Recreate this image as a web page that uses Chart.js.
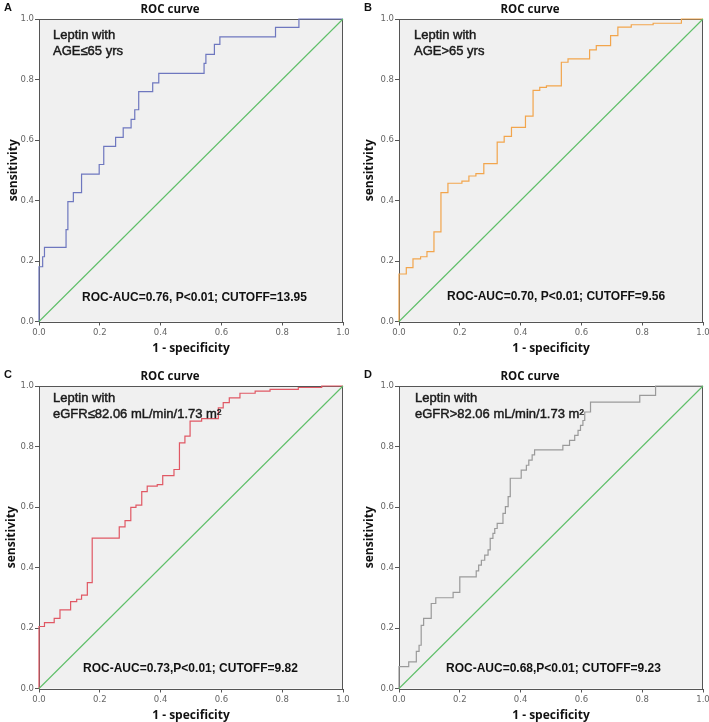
<!DOCTYPE html>
<html>
<head>
<meta charset="utf-8">
<script src="https://cdn.jsdelivr.net/npm/chart.js@4.4.1/dist/chart.umd.min.js"></script>
<style>
  body { margin: 0; background: #fff; width: 709px; height: 722px; position: relative; overflow: hidden; }
  canvas { position: absolute; }
</style>
</head>
<body>
<canvas id="chartA" width="349" height="355" style="left:0px;top:0px"></canvas>
<canvas id="chartB" width="349" height="355" style="left:360px;top:0px"></canvas>
<canvas id="chartC" width="349" height="355" style="left:0px;top:367px"></canvas>
<canvas id="chartD" width="349" height="355" style="left:360px;top:367px"></canvas>
<script>
// reference line
const diagX = [0, 1];
const diagY = [0, 1];
const axisTicks = [0, 0.2, 0.4, 0.6, 0.8, 1.0];

// A: AGE <= 65
const fprA = [0, 0, 0.012, 0.018, 0.089, 0.095, 0.113, 0.140, 0.198, 0.213, 0.252, 0.277, 0.303, 0.315, 0.328, 0.374, 0.394, 0.543, 0.549, 0.577, 0.595, 0.778, 0.855, 1];
const tprA = [0, 0.181, 0.214, 0.245, 0.304, 0.396, 0.426, 0.487, 0.519, 0.579, 0.609, 0.640, 0.668, 0.700, 0.760, 0.789, 0.820, 0.853, 0.883, 0.916, 0.941, 0.972, 1.0, 1.0];

// B: AGE > 65
const fprB = [0, 0, 0.024, 0.046, 0.071, 0.092, 0.115, 0.138, 0.161, 0.207, 0.230, 0.253, 0.279, 0.323, 0.346, 0.370, 0.416, 0.441, 0.463, 0.485, 0.534, 0.556, 0.627, 0.649, 0.696, 0.720, 0.764, 0.836, 0.929, 1];
const tprB = [0, 0.157, 0.178, 0.207, 0.214, 0.231, 0.296, 0.426, 0.457, 0.464, 0.481, 0.489, 0.522, 0.593, 0.612, 0.642, 0.679, 0.764, 0.774, 0.779, 0.857, 0.868, 0.898, 0.912, 0.945, 0.973, 0.981, 0.986, 1.0, 1.0];

// C: eGFR <= 82.06
const fprC = [0, 0, 0.018, 0.050, 0.069, 0.104, 0.124, 0.140, 0.159, 0.175, 0.264, 0.283, 0.302, 0.319, 0.338, 0.356, 0.389, 0.407, 0.444, 0.462, 0.480, 0.497, 0.535, 0.590, 0.606, 0.626, 0.661, 0.711, 0.760, 0.853, 0.930, 1];
const tprC = [0, 0.205, 0.218, 0.232, 0.260, 0.287, 0.295, 0.309, 0.350, 0.497, 0.534, 0.555, 0.599, 0.606, 0.651, 0.669, 0.674, 0.704, 0.724, 0.812, 0.834, 0.884, 0.892, 0.928, 0.945, 0.961, 0.976, 0.983, 0.989, 0.995, 1.0, 1.0];

// D: eGFR > 82.06
const fprD = [0, 0, 0.032, 0.057, 0.066, 0.073, 0.081, 0.106, 0.121, 0.178, 0.200, 0.254, 0.262, 0.271, 0.282, 0.293, 0.300, 0.309, 0.315, 0.323, 0.342, 0.350, 0.359, 0.366, 0.402, 0.419, 0.427, 0.438, 0.446, 0.539, 0.561, 0.578, 0.589, 0.597, 0.605, 0.611, 0.630, 0.792, 0.844, 1];
const tprD = [0, 0.072, 0.088, 0.123, 0.143, 0.209, 0.232, 0.281, 0.300, 0.318, 0.369, 0.389, 0.408, 0.424, 0.441, 0.458, 0.496, 0.513, 0.529, 0.546, 0.579, 0.601, 0.634, 0.695, 0.722, 0.738, 0.755, 0.772, 0.789, 0.804, 0.820, 0.837, 0.853, 0.870, 0.886, 0.914, 0.947, 0.969, 1.0, 1.0];

const letters = ['A', 'B', 'C', 'D'];
const groupLabels = ['AGE≤65 yrs', 'AGE>65 yrs', 'eGFR≤82.06 mL/min/1.73 m²', 'eGFR>82.06 mL/min/1.73 m²'];
const statLabels = [
  'ROC-AUC=0.76, P<0.01; CUTOFF=13.95',
  'ROC-AUC=0.70, P<0.01; CUTOFF=9.56',
  'ROC-AUC=0.73,P<0.01; CUTOFF=9.82',
  'ROC-AUC=0.68,P<0.01; CUTOFF=9.23'
];

const panels = [
  { id: 'chartA', fpr: fprA, tpr: tprA, color: '#6e77bf', textDy: 16, statDy: 23.5, textDx: 14, statDx: 43, labDx: 14 },
  { id: 'chartB', fpr: fprB, tpr: tprB, color: '#f2a54c', textDy: 16, statDy: 24.5, textDx: 15, statDx: 48, labDx: 10 },
  { id: 'chartC', fpr: fprC, tpr: tprC, color: '#e05864', textDy: 12, statDy: 20, textDx: 14, statDx: 44, labDx: 12 },
  { id: 'chartD', fpr: fprD, tpr: tprD, color: '#9a9a9a', textDy: 12, statDy: 20, textDx: 16, statDx: 47, labDx: 10 }
];

const decoPlugin = {
  id: 'deco',
  beforeDatasetsDraw(chart, args, opts) {
    const { ctx, chartArea: a } = chart;
    ctx.save();
    ctx.fillStyle = '#f0f0f0';
    ctx.fillRect(a.left, a.top, a.right - a.left, a.bottom - a.top);
    ctx.strokeStyle = '#555';
    ctx.lineWidth = 1;
    ctx.strokeRect(Math.floor(a.left) + 0.5, Math.floor(a.top) + 0.5,
      Math.round(a.right - a.left) - 1, Math.round(a.bottom - a.top));
    ctx.restore();
  },
  afterDraw(chart, args, opts) {
    const { ctx, chartArea: a } = chart;
    const cx = (a.left + a.right) / 2;
    const cy = (a.top + a.bottom) / 2;
    ctx.save();
    ctx.fillStyle = '#111';
    ctx.textBaseline = 'middle';

    ctx.textAlign = 'left';
    ctx.font = 'bold 11px "Liberation Sans", Arial, sans-serif';
    ctx.fillText(opts.letter, 4, a.top - 11);

    ctx.textAlign = 'center';
    ctx.font = 'bold 11.5px "Open Sans", sans-serif';
    ctx.fillText('ROC curve', cx - 21, a.top - 9);

    ctx.font = 'bold 12px "Open Sans", sans-serif';
    ctx.fillText('1 - specificity', cx, a.bottom + 27);

    ctx.save();
    ctx.translate(opts.labDx, cy);
    ctx.rotate(-Math.PI / 2);
    ctx.fillText('sensitivity', 0, 0);
    ctx.restore();

    // group text, slightly heavier than regular
    ctx.textAlign = 'left';
    ctx.font = '13px "Liberation Sans", Arial, sans-serif';
    ctx.fillStyle = '#1a1a1a';
    ctx.strokeStyle = '#1a1a1a';
    ctx.lineWidth = 0.45;
    const tx = a.left + opts.textDx, ty = a.top + opts.textDy;
    ctx.fillText('Leptin with', tx, ty);
    ctx.strokeText('Leptin with', tx, ty);
    ctx.fillText(opts.group, tx, ty + 16);
    ctx.strokeText(opts.group, tx, ty + 16);

    ctx.font = 'bold 12px "Liberation Sans", Arial, sans-serif';
    ctx.fillStyle = '#111';
    ctx.fillText(opts.stat, a.left + opts.statDx, a.bottom - opts.statDy);
    ctx.restore();
  }
};

function axis(isX) {
  return {
    type: 'linear',
    min: 0,
    max: 1,
    afterFit(scale) {
      if (isX) scale.height = 33.5; else scale.width = 39;
      scale.paddingLeft = 0;
      scale.paddingRight = 0;
      scale.paddingTop = 0;
      scale.paddingBottom = 0;
    },
    afterBuildTicks(scale) {
      scale.ticks = axisTicks.map(v => ({ value: v }));
    },
    grid: { drawOnChartArea: false, drawTicks: true, tickLength: 4, color: '#555' },
    border: { display: false },
    ticks: {
      padding: isX ? 2 : 1,
      color: '#666',
      font: { family: '"DejaVu Sans", sans-serif', size: 8.5 },
      maxRotation: 0,
      callback: v => Number(v).toFixed(1)
    }
  };
}

panels.forEach((p, i) => {
  const curve = p.fpr.map((x, k) => ({ x: x, y: p.tpr[k] }));
  const diag = diagX.map((x, k) => ({ x: x, y: diagY[k] }));
  new Chart(document.getElementById(p.id), {
    type: 'scatter',
    data: {
      datasets: [
        {
          data: diag,
          showLine: true,
          borderColor: '#5fbf69',
          borderWidth: 1.1,
          pointRadius: 0,
          clip: false
        },
        {
          data: curve,
          showLine: true,
          stepped: 'before',
          borderColor: p.color,
          borderWidth: 1.2,
          pointRadius: 0,
          clip: false
        }
      ]
    },
    options: {
      responsive: false,
      animation: false,
      devicePixelRatio: 1,
      layout: { padding: { left: 0, top: 19, right: 6, bottom: 0 } },
      scales: { x: axis(true), y: axis(false) },
      plugins: {
        legend: { display: false },
        tooltip: { enabled: false },
        deco: {
          letter: letters[i],
          group: groupLabels[i],
          stat: statLabels[i],
          textDx: p.textDx,
          textDy: p.textDy,
          statDx: p.statDx,
          statDy: p.statDy,
          labDx: p.labDx
        }
      }
    },
    plugins: [decoPlugin]
  });
});
</script>
</body>
</html>
